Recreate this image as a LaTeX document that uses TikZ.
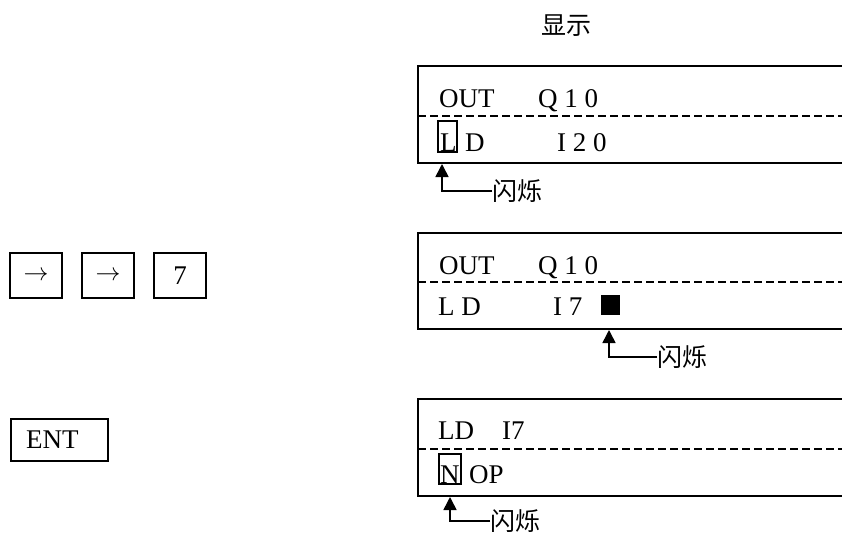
\documentclass[tikz,border=0pt]{standalone}
\usepackage{fontspec}
\setmainfont{Liberation Serif}
\newfontfamily\cjk{Noto Sans CJK SC}
\usetikzlibrary{arrows.meta}
\tikzset{
  txt/.style={anchor=base west,inner sep=0pt,font=\fontsize{27}{30}\selectfont},
  cjktxt/.style={anchor=west,inner sep=0pt,font=\fontsize{25}{28}\selectfont\cjk},
  panel/.style={draw,line width=1.6pt},
  sep/.style={line width=1.2pt,dash pattern=on 8pt off 4pt},
  keybox/.style={draw,line width=1.6pt,minimum height=45pt,inner sep=0pt,font=\fontsize{27}{30}\selectfont},
  cursor/.style={draw,line width=1.4pt},
  blink/.style={line width=1.6pt,-{Triangle[width=13pt,length=13pt]}}
}
\begin{document}
\begin{tikzpicture}[x=1pt,y=-1pt]
\useasboundingbox (0,0) rectangle (842,536);
\clip (0,0) rectangle (842,536);
\fill[white] (0,0) rectangle (842,536);

% title
\node[cjktxt,anchor=center] (title) at (566,26) {显示};

% keys
\node[keybox,minimum width=52pt] (k1) at (36,275.5) {$\rightarrow$};
\node[keybox,minimum width=52pt] (k2) at (108,275.5) {$\rightarrow$};
\node[keybox,minimum width=52pt] (k3) at (180,275.5) {7};
\node[keybox,minimum width=97pt,minimum height=42pt,anchor=west] (ent) at (10,440) {\hspace*{-14pt}ENT};

% panel 1
\draw[panel] (418,66) rectangle (870,163);
\draw[sep] (418,116) -- (842,116);
\node[txt] (p1a) at (439,107) {OUT};
\node[txt] (p1b) at (538,107) {Q 1 0};
\node[txt] (p1c) at (440,151) {L};
\draw[cursor] (438,121) rectangle (457,152);
\node[txt] (p1d) at (465,151) {D};
\node[txt] (p1e) at (557,151) {I 2 0};
\node[cjktxt] (f1) at (492,191) {闪烁};
\coordinate (t1) at (442,164);
\draw[blink] (f1.west) -| (t1);

% panel 2
\draw[panel] (418,233) rectangle (870,329);
\draw[sep] (418,282) -- (842,282);
\node[txt] (p2a) at (439,274) {OUT};
\node[txt] (p2b) at (538,274) {Q 1 0};
\node[txt] (p2c) at (438,315) {L D};
\node[txt] (p2d) at (553,315) {I 7};
\fill (601,295) rectangle (620,315);
\node[cjktxt] (f2) at (657,357) {闪烁};
\coordinate (t2) at (609,330);
\draw[blink] (f2.west) -| (t2);

% panel 3
\draw[panel] (418,399) rectangle (870,496);
\draw[sep] (418,449) -- (842,449);
\node[txt] (p3a) at (438,439) {LD};
\node[txt] (p3b) at (502,439) {I7};
\node[txt] (p3c) at (440,483) {N};
\draw[cursor] (439,454) rectangle (461,484);
\node[txt] (p3d) at (469,483) {OP};
\node[cjktxt] (f3) at (490,521) {闪烁};
\coordinate (t3) at (450,497);
\draw[blink] (f3.west) -| (t3);
\end{tikzpicture}
\end{document}
